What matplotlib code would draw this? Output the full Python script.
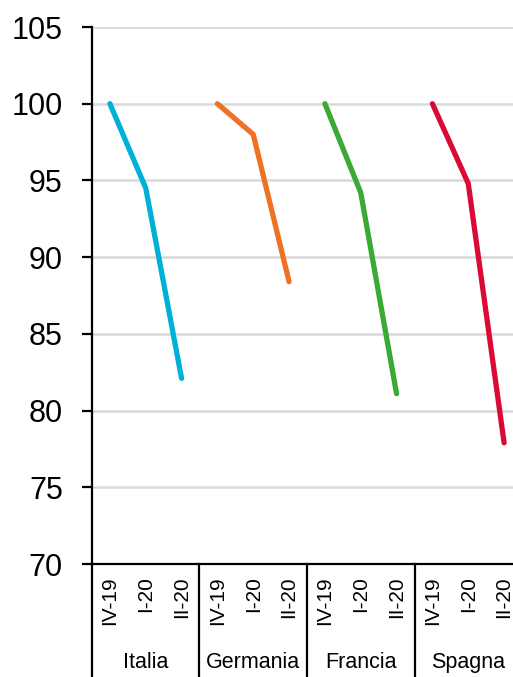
import numpy as np
import matplotlib.pyplot as plt
import matplotlib.transforms as mtransforms

plt.rcParams['font.family'] = ['Liberation Sans', 'DejaVu Sans']

paesi = ['Italia', 'Germania', 'Francia', 'Spagna']
trimestri = ['IV-19', 'I-20', 'II-20']
italia = [100, 94.5, 82.1]
germania = [100, 98.0, 88.4]
francia = [100, 94.2, 81.1]
spagna = [100, 94.8, 77.9]
colori = ['#00b0d6', '#ee7124', '#3aaa35', '#da0a37']

serie = [italia, germania, francia, spagna]

fig = plt.figure(figsize=(5.13, 6.77), dpi=100)
ax = fig.add_axes([92 / 513, 1 - 564 / 677, 430 / 513, (564 - 27) / 677])

for g, (vals, col) in enumerate(zip(serie, colori)):
    xs = np.arange(3) + 3 * g
    ax.plot(xs, vals, color=col, linewidth=3.8, solid_capstyle='round',
            solid_joinstyle='round', zorder=3)

ax.set_xlim(-0.5, 11.5)
ax.set_ylim(70, 105)
ax.set_yticks(np.arange(70, 106, 5))
ax.yaxis.grid(True, color='#d9d9d9', linewidth=1.8)
ax.set_axisbelow(True)

ax.set_xticks(np.arange(12))
ax.set_xticklabels(trimestri * 4, rotation=90, fontsize=15, va='top')
ax.tick_params(axis='x', length=0, pad=9)
ax.tick_params(axis='y', labelsize=22, length=7, width=1.6, pad=14, direction='out')

for s in ['top', 'right']:
    ax.spines[s].set_visible(False)
for s in ['left', 'bottom']:
    ax.spines[s].set_linewidth(1.6)

trans = mtransforms.blended_transform_factory(ax.transData, ax.transAxes)
for g in range(4):
    xsep = 3 * g - 0.5
    ax.plot([xsep, xsep], [0, -0.25], color='black', linewidth=1.6,
            transform=trans, clip_on=False)
    ax.text(3 * g + 1, -0.183, paesi[g], transform=trans, ha='center',
            va='center', fontsize=15.5)

fig.savefig('out.png', dpi=100)
